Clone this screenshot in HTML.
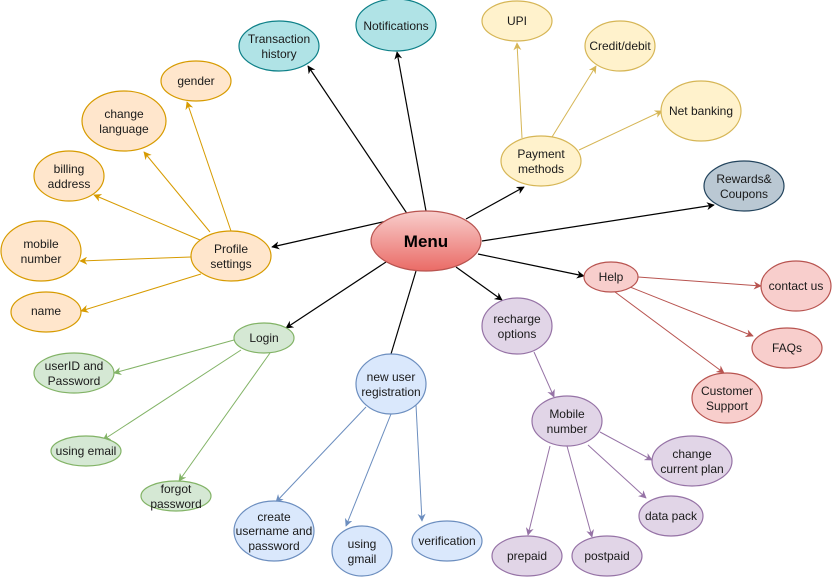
<!DOCTYPE html>
<html><head><meta charset="utf-8"><style>
html,body{margin:0;padding:0;background:#fff;}
svg{display:block;font-family:"Liberation Sans",Arial,sans-serif;}
text{font-size:12px;fill:#1a1a1a;text-anchor:middle;}
</style></head><body>
<svg width="833" height="578" viewBox="0 0 833 578" xmlns="http://www.w3.org/2000/svg">
<defs>
<linearGradient id="mg" x1="0" y1="0" x2="0" y2="1"><stop offset="0" stop-color="#f8cecc"/><stop offset="1" stop-color="#ea6b66"/></linearGradient>
<marker id="k" viewBox="0 0 10 10" refX="9" refY="5" markerWidth="8" markerHeight="8" orient="auto" markerUnits="userSpaceOnUse"><path d="M0,0 L10,5 L0,10 L3,5 z" fill="#000"/></marker>
<marker id="o" viewBox="0 0 10 10" refX="9" refY="5" markerWidth="8" markerHeight="8" orient="auto" markerUnits="userSpaceOnUse"><path d="M0,0 L10,5 L0,10 L3,5 z" fill="#d79b00"/></marker>
<marker id="y" viewBox="0 0 10 10" refX="9" refY="5" markerWidth="8" markerHeight="8" orient="auto" markerUnits="userSpaceOnUse"><path d="M0,0 L10,5 L0,10 L3,5 z" fill="#d6b656"/></marker>
<marker id="r" viewBox="0 0 10 10" refX="9" refY="5" markerWidth="8" markerHeight="8" orient="auto" markerUnits="userSpaceOnUse"><path d="M0,0 L10,5 L0,10 L3,5 z" fill="#b85450"/></marker>
<marker id="p" viewBox="0 0 10 10" refX="9" refY="5" markerWidth="8" markerHeight="8" orient="auto" markerUnits="userSpaceOnUse"><path d="M0,0 L10,5 L0,10 L3,5 z" fill="#9673a6"/></marker>
<marker id="b" viewBox="0 0 10 10" refX="9" refY="5" markerWidth="8" markerHeight="8" orient="auto" markerUnits="userSpaceOnUse"><path d="M0,0 L10,5 L0,10 L3,5 z" fill="#6c8ebf"/></marker>
<marker id="g" viewBox="0 0 10 10" refX="9" refY="5" markerWidth="8" markerHeight="8" orient="auto" markerUnits="userSpaceOnUse"><path d="M0,0 L10,5 L0,10 L3,5 z" fill="#82b366"/></marker>
</defs>
<g fill="none" stroke-width="1">
<g stroke="#000" stroke-width="1.2">
<line x1="408" y1="215" x2="308" y2="66" marker-end="url(#k)"/>
<line x1="426" y1="211" x2="397" y2="52" marker-end="url(#k)"/>
<line x1="387" y1="221" x2="272" y2="247" marker-end="url(#k)"/>
<line x1="466" y1="219" x2="524" y2="187" marker-end="url(#k)"/>
<line x1="482" y1="241" x2="714" y2="205" marker-end="url(#k)"/>
<line x1="478" y1="254" x2="584" y2="276" marker-end="url(#k)"/>
<line x1="456" y1="267" x2="502" y2="300" marker-end="url(#k)"/>
<line x1="386" y1="262" x2="286" y2="328" marker-end="url(#k)"/>
<line x1="416" y1="271" x2="391" y2="354"/>
</g>
<g stroke="#d79b00">
<line x1="231" y1="231" x2="187" y2="102" marker-end="url(#o)"/>
<line x1="210" y1="232" x2="144" y2="152" marker-end="url(#o)"/>
<line x1="200" y1="240" x2="94" y2="195" marker-end="url(#o)"/>
<line x1="191" y1="257" x2="80" y2="261" marker-end="url(#o)"/>
<line x1="201" y1="274" x2="81" y2="311" marker-end="url(#o)"/>
</g>
<g stroke="#d6b656">
<line x1="522" y1="138" x2="517" y2="43" marker-end="url(#y)"/>
<line x1="552" y1="137" x2="596" y2="66" marker-end="url(#y)"/>
<line x1="579" y1="150" x2="662" y2="111" marker-end="url(#y)"/>
</g>
<g stroke="#b85450">
<line x1="638" y1="277" x2="761" y2="286" marker-end="url(#r)"/>
<line x1="630" y1="287" x2="753" y2="336" marker-end="url(#r)"/>
<line x1="615" y1="292" x2="724" y2="373" marker-end="url(#r)"/>
</g>
<g stroke="#9673a6">
<line x1="534" y1="352" x2="554" y2="397" marker-end="url(#p)"/>
<line x1="600" y1="432" x2="652" y2="460" marker-end="url(#p)"/>
<line x1="588" y1="445" x2="646" y2="498" marker-end="url(#p)"/>
<line x1="550" y1="446" x2="528" y2="535" marker-end="url(#p)"/>
<line x1="567" y1="446" x2="592" y2="537" marker-end="url(#p)"/>
</g>
<g stroke="#82b366">
<line x1="234" y1="340" x2="114" y2="373" marker-end="url(#g)"/>
<line x1="241" y1="350" x2="103" y2="440" marker-end="url(#g)"/>
<line x1="270" y1="353" x2="179" y2="481" marker-end="url(#g)"/>
</g>
<g stroke="#6c8ebf">
<line x1="366" y1="407" x2="276" y2="502" marker-end="url(#b)"/>
<line x1="391" y1="414" x2="346" y2="526" marker-end="url(#b)"/>
<line x1="416" y1="405" x2="422" y2="521" marker-end="url(#b)"/>
</g>
</g>
<!-- nodes -->
<g stroke-width="1.2">
<ellipse cx="426" cy="241" rx="55" ry="30" fill="url(#mg)" stroke="#b85450"/>
<g fill="#b0e3e6" stroke="#0e8088">
<ellipse cx="279" cy="46" rx="40" ry="25"/>
<ellipse cx="396" cy="25" rx="40" ry="26"/>
</g>
<g fill="#ffe6cc" stroke="#d79b00">
<ellipse cx="196" cy="81" rx="35" ry="20"/>
<ellipse cx="124" cy="121" rx="42" ry="30"/>
<ellipse cx="69" cy="176" rx="35" ry="25"/>
<ellipse cx="41" cy="251" rx="40" ry="30"/>
<ellipse cx="46" cy="312" rx="35" ry="20"/>
<ellipse cx="231" cy="256" rx="40" ry="25"/>
</g>
<g fill="#fff2cc" stroke="#d6b656">
<ellipse cx="541" cy="161" rx="40" ry="25"/>
<ellipse cx="517" cy="21" rx="35" ry="20"/>
<ellipse cx="620" cy="46" rx="35" ry="25"/>
<ellipse cx="701" cy="111" rx="40" ry="30"/>
</g>
<ellipse cx="744" cy="186" rx="40" ry="25" fill="#bac8d3" stroke="#23445d"/>
<g fill="#f8cecc" stroke="#b85450">
<ellipse cx="611" cy="277" rx="27" ry="15"/>
<ellipse cx="796" cy="286" rx="35" ry="25"/>
<ellipse cx="787" cy="348" rx="35" ry="20"/>
<ellipse cx="727" cy="398" rx="35" ry="25"/>
</g>
<g fill="#e1d5e7" stroke="#9673a6">
<ellipse cx="517" cy="326" rx="35" ry="28"/>
<ellipse cx="567" cy="421" rx="35" ry="25"/>
<ellipse cx="692" cy="461" rx="40" ry="25"/>
<ellipse cx="671" cy="516" rx="32" ry="20"/>
<ellipse cx="527" cy="556" rx="35" ry="20"/>
<ellipse cx="607" cy="556" rx="35" ry="20"/>
</g>
<g fill="#dae8fc" stroke="#6c8ebf">
<ellipse cx="391" cy="384" rx="35" ry="30"/>
<ellipse cx="274" cy="531" rx="40" ry="30"/>
<ellipse cx="362" cy="551" rx="30" ry="25"/>
<ellipse cx="447" cy="541" rx="35" ry="20"/>
</g>
<g fill="#d5e8d4" stroke="#82b366">
<ellipse cx="264" cy="338" rx="30" ry="15"/>
<ellipse cx="74" cy="373" rx="40" ry="20"/>
<ellipse cx="86" cy="451" rx="35" ry="15"/>
<ellipse cx="176" cy="496" rx="35" ry="15"/>
</g>
</g>
<!-- labels -->
<text x="426" y="247" style="font-size:17px;font-weight:bold;fill:#000">Menu</text>
<text x="279" y="43">Transaction</text><text x="279" y="58">history</text>
<text x="396" y="30">Notifications</text>
<text x="196" y="85">gender</text>
<text x="124" y="118">change</text><text x="124" y="133">language</text>
<text x="69" y="173">billing</text><text x="69" y="188">address</text>
<text x="41" y="248">mobile</text><text x="41" y="263">number</text>
<text x="46" y="315">name</text>
<text x="231" y="253">Profile</text><text x="231" y="268">settings</text>
<text x="541" y="158">Payment</text><text x="541" y="173">methods</text>
<text x="517" y="25">UPI</text>
<text x="620" y="50">Credit/debit</text>
<text x="701" y="115">Net banking</text>
<text x="744" y="183">Rewards&amp;</text><text x="744" y="198">Coupons</text>
<text x="611" y="281">Help</text>
<text x="796" y="290">contact us</text>
<text x="787" y="352">FAQs</text>
<text x="727" y="395">Customer</text><text x="727" y="410">Support</text>
<text x="517" y="323">recharge</text><text x="517" y="338">options</text>
<text x="567" y="418">Mobile</text><text x="567" y="433">number</text>
<text x="692" y="458">change</text><text x="692" y="473">current plan</text>
<text x="671" y="520">data pack</text>
<text x="527" y="560">prepaid</text>
<text x="607" y="560">postpaid</text>
<text x="391" y="381">new user</text><text x="391" y="396">registration</text>
<text x="274" y="521">create</text><text x="274" y="535">username and</text><text x="274" y="550">password</text>
<text x="362" y="548">using</text><text x="362" y="563">gmail</text>
<text x="447" y="545">verification</text>
<text x="264" y="342">Login</text>
<text x="74" y="370">userID and</text><text x="74" y="385">Password</text>
<text x="86" y="455">using email</text>
<text x="176" y="493">forgot</text><text x="176" y="508">password</text>
</svg>
</body></html>
